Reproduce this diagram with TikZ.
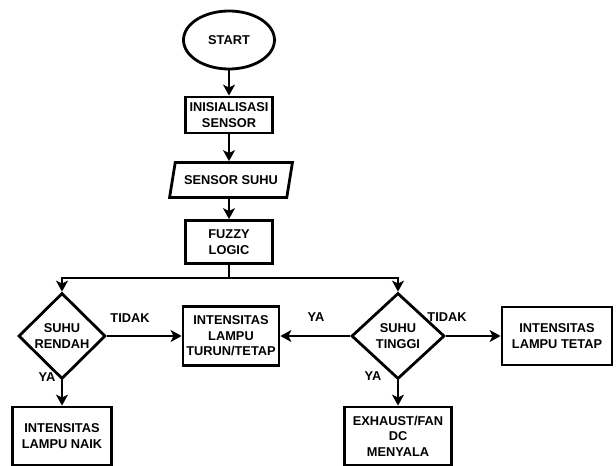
\documentclass[tikz,border=0pt]{standalone}
\usepackage{fontspec}
\setmainfont{Liberation Sans}
\usetikzlibrary{shapes.geometric,arrows.meta}

\begin{document}
\begin{tikzpicture}[x=1pt, y=-1pt, line width=2.8pt, >={Stealth[length=11pt,width=12pt,inset=3pt]},
  every node/.style={font=\fontsize{12.8}{15.5}\selectfont\bfseries, align=center},
  box/.style={draw, rectangle, inner sep=2pt},
  decision/.style={draw, diamond, inner sep=0pt},
  io/.style={draw, trapezium, trapezium left angle=72, trapezium right angle=108, trapezium stretches=true}]
     \useasboundingbox (0,0) rectangle (616,466);

     \node (start) at (229,40) [draw, ellipse, minimum width=91pt, minimum height=58pt] {START};
     \node (init) at (229,115) [box, minimum width=87pt, minimum height=36pt] {INISIALISASI\\SENSOR};
     \node (sensor) at (231,180) [io, minimum width=123pt, minimum height=35pt] {SENSOR SUHU};
     \node (fuzzy) at (229,242) [box, minimum width=87pt, minimum height=43pt] {FUZZY\\LOGIC};
     \coordinate (split) at (229,278);

     \node (rendah) at (62,336) [decision, minimum width=87pt, minimum height=86pt] {SUHU\\RENDAH};
     \node (tinggi) at (398,336) [decision, minimum width=93pt, minimum height=86pt] {SUHU\\TINGGI};
     \node (turun) at (231,336) [box, minimum width=96pt, minimum height=59pt] {INTENSITAS\\LAMPU\\TURUN/TETAP};
     \node (tetap) at (557,336) [box, minimum width=110pt, minimum height=58pt] {INTENSITAS\\LAMPU TETAP};
     \node (naik) at (62,436) [box, minimum width=99pt, minimum height=58pt] {INTENSITAS\\LAMPU NAIK};
     \node (exhaust) at (398,436) [box, minimum width=107pt, minimum height=58pt] {EXHAUST/FAN\\DC\\MENYALA};

     \draw[->] (start) -- (init);
     \draw[->] (init) -- (init |- sensor.north);
     \draw[->] (fuzzy |- sensor.south) -- (fuzzy);
     \draw (fuzzy) -- (split);
     \draw[->] (split) -| (rendah);
     \draw[->] (split) -| (tinggi);
     \draw[->] (rendah) -- (turun);
     \draw[->] (rendah) -- (naik);
     \draw[->] (tinggi) -- (turun);
     \draw[->] (tinggi) -- (tetap);
     \draw[->] (tinggi) -- (exhaust);

     \node (tidak1) at (130,318) {TIDAK};
     \node (ya1) at (47,377) {YA};
     \node (ya2) at (316,317) {YA};
     \node (tidak2) at (447,317) {TIDAK};
     \node (ya3) at (373,376) {YA};
    \end{tikzpicture}
\end{document}
